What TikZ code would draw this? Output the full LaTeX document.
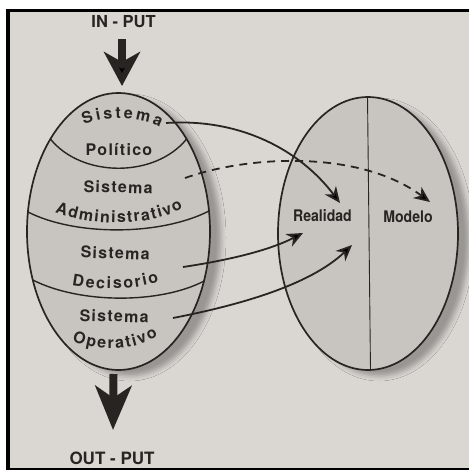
\documentclass[tikz,border=0pt]{standalone}
\usepackage{fontspec}
\setmainfont{TeX Gyre Heros}
\newfontfamily\lblfont[LetterSpace=8]{TeX Gyre Heros}
\usetikzlibrary{arrows.meta,decorations.text,shadows.blur,shapes.geometric}

\definecolor{paper}{HTML}{DAD7D3}
\definecolor{shade}{HTML}{C8C4BF}
\definecolor{ink}{HTML}{282422}

\tikzset{
  sphere/.style={ellipse, draw=ink, line width=1.7bp, fill=shade, inner sep=0pt,
    blur shadow={shadow xshift=11bp, shadow yshift=-6bp, shadow blur radius=5bp, shadow opacity=30}},
  divider/.style={draw=ink, line width=1.4bp},
  label/.style={font=\lblfont\bfseries\fontsize{16bp}{18bp}\selectfont, text=ink, inner sep=0pt, anchor=base},
  plain/.style={font=\bfseries\fontsize{16bp}{18bp}\selectfont, text=ink, inner sep=0pt, anchor=base, xscale=0.88},
  flowtext/.style={font=\bfseries\fontsize{16.5bp}{18bp}\selectfont, text=ink, inner sep=0pt, anchor=base},
  arctext/.style={decorate, decoration={text along path, text align=fit to path,
    text color=ink, text={|\lblfont\bfseries\fontsize{16bp}{18bp}\selectfont|#1}}},
  link/.style={draw=ink, line width=1.8bp, -{Stealth[length=16bp, width=14bp, inset=5bp]}},
  flow/.style={draw=ink, line width=8bp, -{Stealth[length=34bp, width=36bp, inset=10bp]}},
}

\begin{document}
\begin{tikzpicture}[x=1bp, y=-1bp]
  \useasboundingbox (0,0) rectangle (469,470);
  % page and frame
  \fill[white] (0,0) rectangle (469,470);
  \fill[paper] (8,11) rectangle (469,468);
  \fill[black] (6,9) rectangle (469,12.5);
  \fill[black] (6,9) rectangle (10,470);
  \fill[black] (6,467.5) rectangle (469,470);

  % the two ellipses
  \node[sphere, minimum width=183bp, minimum height=277bp] (sys) at (118.5,231.5) {};
  \node[sphere, minimum width=180bp, minimum height=273bp] (view) at (368,233.5) {};
  \draw[ink, line width=0.9bp] ([xshift=-0.5bp]view.north) -- ([xshift=2.5bp]view.south);

  % layers of the system
  \draw[divider] (50.4,139) .. controls (82,178) and (155,178) .. (186.6,139);
  \draw[divider] (28,212) .. controls (75,236) and (160,236) .. (209,211);
  \draw[divider] (32.8,280) .. controls (80,304) and (160,304) .. (204.2,281);

  % layer names
  \path[arctext=Sistema] (84,125) .. controls (105,116) and (140,116) .. (160,127);
  \node[label] (pol) at (119,156) {Político};
  \node[label, rotate=-1.5] (adm-s) at (118,193) {Sistema};
  \path[arctext=Administrativo] (55,212) .. controls (90,226) and (148,228) .. (183,208);
  \node[label, rotate=-2] (dec-s) at (115,259) {Sistema};
  \path[arctext=Decisorio] (72,285) .. controls (100,290) and (130,291) .. (159,282);
  \node[label, rotate=-1.5] (ope-s) at (114,322) {Sistema};
  \path[arctext=Operativo] (72,341) .. controls (100,352) and (130,352) .. (158,336);

  \node[plain] (real) at (322.5,222) {Realidad};
  \node[plain] (mod) at (408,223) {Modelo};

  % input and output
  \node[flowtext] (in) at (123.5,28) {IN - PUT};
  \node[flowtext, font=\bfseries\fontsize{17bp}{19bp}\selectfont] (out) at (112,464.5) {OUT - PUT};
  \coordinate (in-top) at (122,39);
  \coordinate (in-tip) at (122,86);
  \coordinate (out-top) at (113.5,374);
  \coordinate (out-tip) at (113,430);
  \draw[flow] (in-top) -- (in-tip);
  \draw[flow, -{Stealth[length=44bp, width=36bp, inset=12bp]}] (out-top) -- (out-tip);

  % links between the layers and the two views
  \coordinate (pol-out) at (166,123);
  \coordinate (adm-out) at (185,178);
  \coordinate (dec-out) at (183,267);
  \coordinate (ope-out) at (173,318);
  \coordinate (real-a) at (340,203);
  \coordinate (mod-a) at (430,202);
  \coordinate (real-b) at (303,233);
  \coordinate (real-c) at (352,245);
  \draw[link] (pol-out) .. controls +(74,-5) and +(-40,-53) .. (real-a);
  \draw[link, dash pattern=on 8bp off 6bp] (adm-out) .. controls +(65,-23) and +(-70,-52) .. (mod-a);
  \draw[link] (dec-out) .. controls +(47,-7) and +(-33,17) .. (real-b);
  \draw[link] (ope-out) .. controls +(67,-13) and +(-42,40) .. (real-c);
\end{tikzpicture}
\end{document}
